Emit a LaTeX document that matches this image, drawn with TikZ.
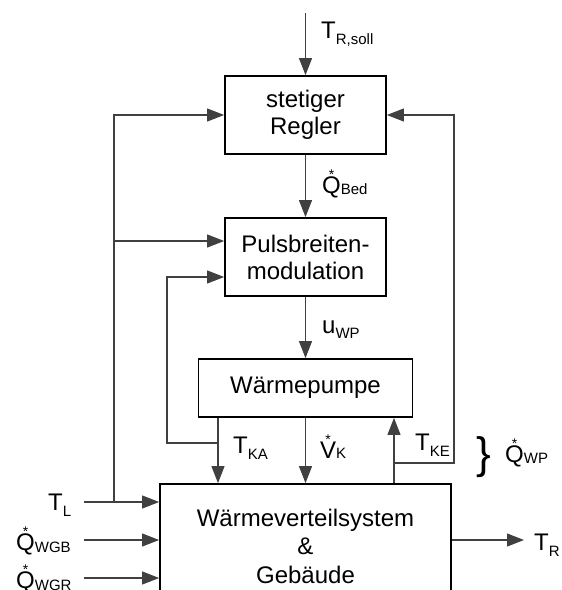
\documentclass[tikz,border=0pt]{standalone}
\usepackage{fontspec}
\setmainfont{Liberation Sans}
\usetikzlibrary{arrows.meta}
\newcommand\mysub[2]{\raisebox{-#1pt}{\fontsize{15}{15}\selectfont #2}}
\newcommand\mydot[1]{\hbox{\ooalign{#1\cr\hidewidth\raisebox{13.5pt}{\fontsize{14}{14}\selectfont *}\hidewidth\cr}}}
\begin{document}
\begin{tikzpicture}[x=1pt,y=-1pt,
 blk/.style={draw=black,line width=1.8pt,fill=none,inner sep=0pt,font=\fontsize{24}{27}\selectfont,align=center},
 con/.style={line width=1.1pt,draw=black!75},
 arr/.style={con,-{Triangle[length=17pt,width=13pt]}},
 lbl/.style={anchor=base west,inner sep=0pt,font=\fontsize{24}{27}\selectfont}]
\useasboundingbox (0,0) rectangle (562,590);
\clip (0,0) rectangle (562,590);
% blocks
\node[blk,minimum width=161pt,minimum height=78pt] (reg) at (305.5,115) {stetiger\\Regler};
\node[blk,minimum width=161pt,minimum height=78pt] (pwm) at (305.5,257) {Pulsbreiten-\\modulation};
\node[blk,minimum width=214pt,minimum height=58pt] (wp) at (305.5,388) {Wärmepumpe};
\node[blk,minimum width=291pt,minimum height=124pt,font=\fontsize{24}{28.5}\selectfont] (geb) at (305.5,546) {Wärmeverteilsystem\\\&\\Gebäude};
% coordinates
\coordinate (top) at (305.5,13);
\coordinate (kax) at (218,0);
\coordinate (kex) at (394,0);
\coordinate (lp1) at (218,443);
\coordinate (lp2) at (167,443);
\coordinate (pin1) at ([yshift=16pt]pwm.west);
\coordinate (pin2) at ([yshift=-20pt]pwm.west);
\coordinate (tl) at (84,502);
\coordinate (jl) at (114,502);
\coordinate (wgb) at (84,540);
\coordinate (wgr) at (84,578);
\coordinate (tr) at (524,540);
\coordinate (fb) at (394,463);
\coordinate (fbx) at (454,463);
% main chain
\draw[arr] (top) -- (reg.north);
\draw[arr] (reg.south) -- (pwm.north);
\draw[arr] (pwm.south) -- (wp.north);
\draw[arr] (wp.south) -- (wp.south |- geb.north);
\draw[arr] (wp.south -| kax) -- (geb.north -| kax);
\draw[arr] (geb.north -| kex) -- (wp.south -| kex);
% loops
\draw[arr] (lp1) -- (lp2) |- (pin2);
\draw[arr] (fb) -- (fbx) |- (reg.east);
\draw[arr] (tl) -- (tl -| geb.west);
\draw[arr] (jl) |- (reg.west);
\draw[arr] (jl |- pin1) -- (pin1);
\draw[arr] (wgb) -- (wgb -| geb.west);
\draw[arr] (wgr) -- (wgr -| geb.west);
\draw[arr] (geb.east |- tr) -- (tr);
% labels
\node[lbl] (lsoll) at (321,38) {T\mysub{6.5}{R,soll}};
\node[lbl] (lbed) at (322,193) {\mydot{Q}\mysub{1}{Bed}};
\node[lbl] (luwp) at (322,333) {u\mysub{5}{WP}};
\node[lbl] (lka) at (233,453) {T\mysub{6}{KA}};
\node[lbl] (lvk) at (320,458) {\mydot{V}\mysub{0}{K}};
\node[lbl] (lke) at (415,450) {T\mysub{6}{KE}};
\node[lbl] (lqwp) at (505,462) {\mydot{Q}\mysub{1}{WP}};
\node[font=\fontsize{44}{44}\selectfont,inner sep=0pt] (brace) at (484,457) {\}};
\node[lbl] (ltl) at (48,510) {T\mysub{6.5}{L}};
\node[lbl] (lwgb) at (16,550) {\mydot{Q}\mysub{2}{WGB}};
\node[lbl] (lwgr) at (16,588) {\mydot{Q}\mysub{2}{WGR}};
\node[lbl] (ltr) at (534,550) {T\mysub{6}{R}};
\end{tikzpicture}
\end{document}
